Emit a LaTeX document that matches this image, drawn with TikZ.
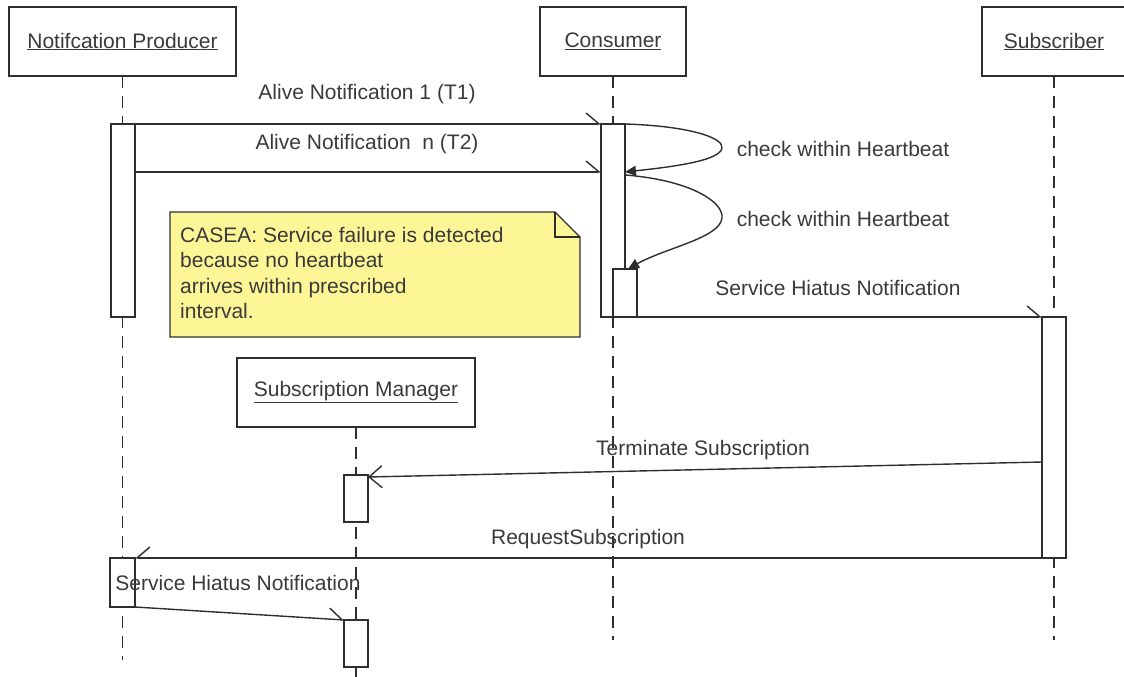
\documentclass[tikz,border=0pt]{standalone}
\usepackage{fontspec}
\setmainfont{Liberation Sans}
\usetikzlibrary{arrows.meta}
\definecolor{linec}{HTML}{2E2E2E}
\definecolor{txtc}{HTML}{3A3A3A}
\definecolor{notey}{RGB}{252,246,150}
\begin{document}
\begin{tikzpicture}[x=1pt,y=-1pt,
  font=\fontsize{21}{25.5}\selectfont, text=txtc,
  obj/.style={draw=linec, line width=1.6pt, fill=white, minimum height=69pt, inner sep=0pt, outer sep=0pt},
  act/.style={draw=linec, line width=1.4pt, fill=white, inner sep=0pt, outer sep=0pt, minimum width=24pt},
  life/.style={draw=linec, line width=1.7pt, dash pattern=on 12pt off 8pt},
  msg/.style={draw=linec, line width=1.4pt, -{Straight Barb[harpoon, length=13pt, width=22pt]}},
  msgs/.style={draw=linec, line width=1.4pt, -{Straight Barb[harpoon, swap, length=13pt, width=22pt]}},
  msgf/.style={draw=linec, line width=1.4pt, -{Straight Barb[length=13pt, width=22pt]}},
  selfm/.style={draw=linec, line width=1.4pt, -{Triangle[length=11pt, width=10pt]}},
  lbl/.style={inner sep=0pt, anchor=center}
]
\useasboundingbox (0,0) rectangle (1124,677);

% object boxes
\node[obj, minimum width=227pt] (np) at (122.5,41.5) {\underline{Notifcation Producer}};
\node[obj, minimum width=146pt] (cons) at (613,41.5) {\underline{Consumer}};
\node[obj, minimum width=144pt] (sub) at (1054,41.5) {\underline{Subscriber}};
\node[obj, minimum width=238pt] (sm) at (356,392.5) {\underline{Subscription Manager}};

% lifeline ends
\coordinate (npend) at (122.5,660);
\coordinate (consend) at (613,640);
\coordinate (subend) at (1054,640);
\coordinate (smend) at (356,677);
\draw[life] (np.south) -- (npend);
\draw[life] (cons.south) -- (consend);
\draw[life] (sub.south) -- (subend);
\draw[life] (sm.south) -- (smend);

% note
\draw[draw=linec, line width=1.4pt, fill=notey] (170,212) -- (555,212) -- (580,237) -- (580,337) -- (170,337) -- cycle;
\draw[draw=linec, line width=1.4pt] (555,212) -- (555,237) -- (580,237);
\node[anchor=north west, inner sep=0pt, align=left, text=txtc] (note) at (180,227)
  {CASEA: Service failure is detected\\because no heartbeat\\arrives within prescribed\\interval.};

% activation bars
\node[act, minimum height=193pt] (pa1) at (123,220.5) {};
\node[act, minimum height=193pt] (ca1) at (613,220.5) {};
\node[act, minimum height=48pt] (ca2) at (625,293) {};
\node[act, minimum height=241pt] (sa1) at (1054,437.5) {};
\node[act, minimum height=47pt] (ma1) at (356,498.5) {};
\node[act, minimum height=47pt] (ma2) at (356,643.5) {};
\node[act, minimum width=25pt, minimum height=49pt] (pa2) at (122.5,582.5) {};

% message end points
\coordinate (m2s) at (135,172);
\coordinate (m2e) at (601,172);
\coordinate (s1e) at (625,172);
\coordinate (s2s) at (625,175);
\coordinate (s2e) at (628,269);
\coordinate (m6s) at (1042,462);
\coordinate (m6e) at (368,477);

% messages
\draw[msg] (pa1.north east) -- (ca1.north west);
\draw[msg] (m2s) -- (m2e);
\draw[selfm] (ca1.north east) .. controls (690,126) and (724,138) .. (722,148)
  .. controls (720,160) and (680,166) .. (s1e);
\draw[selfm] (s2s) .. controls (690,180) and (724,202) .. (722,218)
  .. controls (720,238) and (665,248) .. (s2e);
\draw[msg] (ca2.south east) -- (sa1.north west);
\draw[msgf] (m6s) -- (m6e);
\draw[msgs] (sa1.south west) -- (pa2.north east);
\draw[msg] (pa2.south east) -- (ma2.north west);

% labels
\node[lbl] (l1) at (367,94) {Alive Notification 1 (T1)};
\node[lbl] (l2) at (367,144) {Alive Notification\ \ n (T2)};
\node[lbl] (l3) at (843,149) {check within Heartbeat};
\node[lbl] (l4) at (843,219) {check within Heartbeat};
\node[lbl] (l5) at (838,288) {Service Hiatus Notification};
\node[lbl] (l6) at (703,450) {Terminate Subscription};
\node[lbl] (l7) at (588,539) {RequestSubscription};
\node[lbl] (l8) at (238,583) {Service Hiatus Notification};
\end{tikzpicture}
\end{document}
